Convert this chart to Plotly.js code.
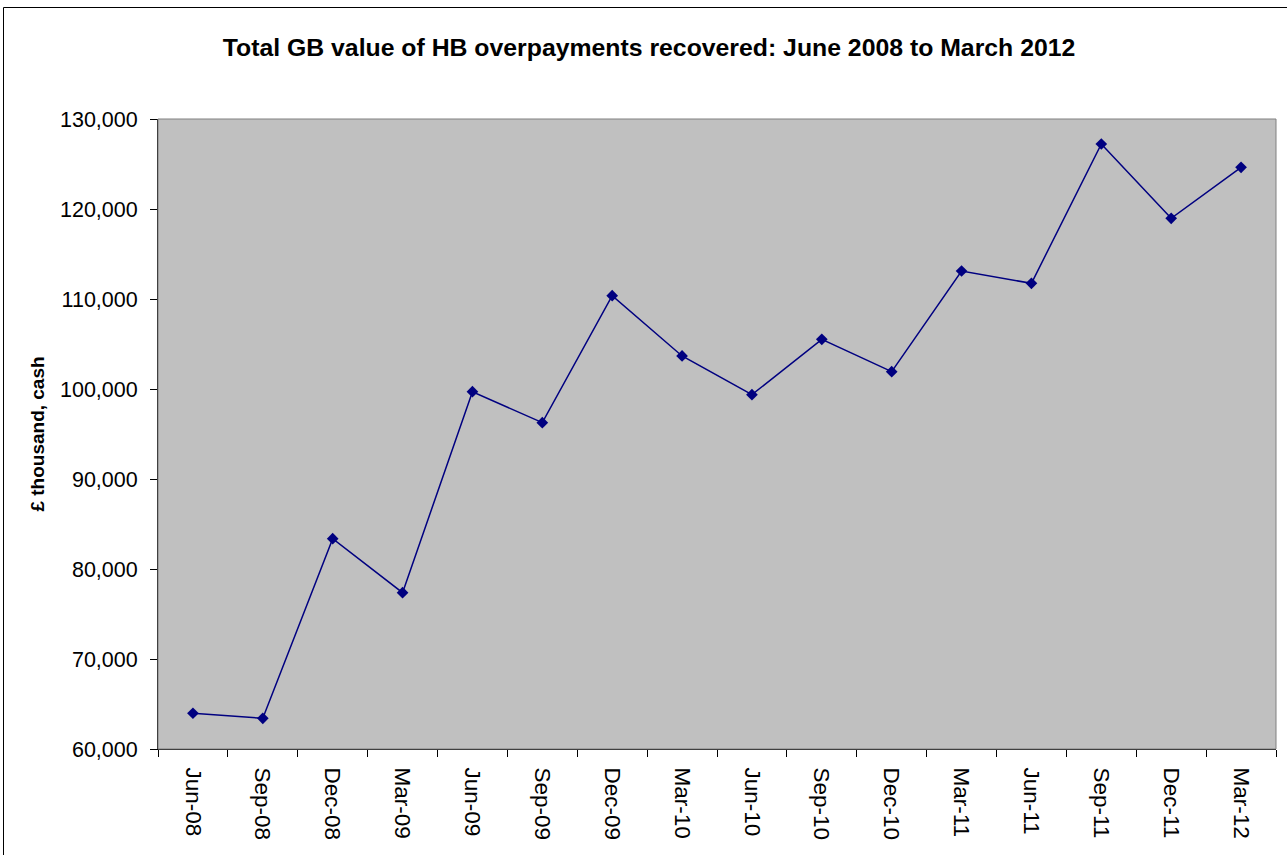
<!DOCTYPE html>
<html>
<head>
<meta charset="utf-8">
<script src="https://cdn.plot.ly/plotly-3.0.1.min.js"></script>
<style>
  html, body { margin: 0; padding: 0; background: #ffffff; }
  #chart { width: 1287px; height: 855px; }
</style>
</head>
<body>
<div id="chart"></div>
<script>
const categories = ["Jun-08", "Sep-08", "Dec-08", "Mar-09", "Jun-09", "Sep-09", "Dec-09", "Mar-10",
                    "Jun-10", "Sep-10", "Dec-10", "Mar-11", "Jun-11", "Sep-11", "Dec-11", "Mar-12"];
const recovered = [63970, 63410, 83370, 77370, 99700, 96260, 110370, 103670,
                   99370, 105520, 101930, 113110, 111740, 127220, 118960, 124630];
const yTickVals = [60000, 70000, 80000, 90000, 100000, 110000, 120000, 130000];
const yTickText = ["60,000", "70,000", "80,000", "90,000", "100,000", "110,000", "120,000", "130,000"];

const W = 1287, H = 855;
const mL = 158, mR = 11, mT = 119, mB = 106;
const pw = W - mL - mR, ph = H - mT - mB;
const px = (x) => (x - mL) / pw;
const py = (y) => (H - mB - y) / ph;

const font = "Arial, 'Liberation Sans', Helvetica, sans-serif";

const trace = {
  type: "scatter",
  mode: "lines+markers",
  x: categories,
  y: recovered,
  line: { color: "#000080", width: 1.5 },
  marker: { symbol: "diamond", size: 9, color: "#000080", line: { width: 0 } },
  hoverinfo: "x+y"
};

const layout = {
  width: W,
  height: H,
  margin: { l: mL, r: mR, t: mT, b: mB, pad: 0 },
  paper_bgcolor: "#ffffff",
  plot_bgcolor: "#C0C0C0",
  showlegend: false,
  font: { family: font, size: 22, color: "#000000" },
  title: {
    text: "<b>Total GB value of HB overpayments recovered: June 2008 to March 2012</b>",
    font: { family: font, size: 24.8, color: "#000000" },
    xref: "container", x: 649 / W, xanchor: "center",
    yref: "container", y: 1 - 47 / H, yanchor: "middle"
  },
  xaxis: {
    type: "category",
    range: [-0.5, categories.length - 0.5],
    tickangle: 90,
    ticks: "outside",
    tickson: "boundaries",
    ticklen: 7,
    tickcolor: "#000000",
    tickwidth: 1,
    showgrid: false,
    zeroline: false,
    showline: true,
    linecolor: "#000000",
    linewidth: 1,
    tickfont: { family: font, size: 22.5, color: "#000000" },
    ticklabelstandoff: 13,
    fixedrange: true
  },
  yaxis: {
    range: [60000, 130000],
    tickvals: yTickVals,
    ticktext: yTickText,
    ticks: "outside",
    ticklen: 7,
    tickcolor: "#000000",
    tickwidth: 1,
    showgrid: false,
    zeroline: false,
    showline: true,
    linecolor: "#000000",
    linewidth: 1,
    tickfont: { family: font, size: 21.5, color: "#000000" },
    ticklabelstandoff: 8,
    title: {
      text: "<b>£ thousand, cash</b>",
      font: { family: font, size: 19, color: "#000000" },
      standoff: 10
    },
    automargin: false,
    fixedrange: true
  },
  shapes: [
    {
      type: "rect", xref: "paper", yref: "paper",
      x0: 0, x1: 1, y0: 0, y1: 1,
      line: { color: "#808080", width: 1 },
      fillcolor: "rgba(0,0,0,0)", layer: "above"
    },
    {
      type: "rect", xref: "paper", yref: "paper",
      x0: px(3.5), x1: px(1295), y0: py(7.5), y1: py(870),
      line: { color: "#000000", width: 1 },
      fillcolor: "rgba(0,0,0,0)", layer: "above"
    }
  ]
};

Plotly.newPlot("chart", [trace], layout, { displayModeBar: false, staticPlot: true });
</script>
</body>
</html>
